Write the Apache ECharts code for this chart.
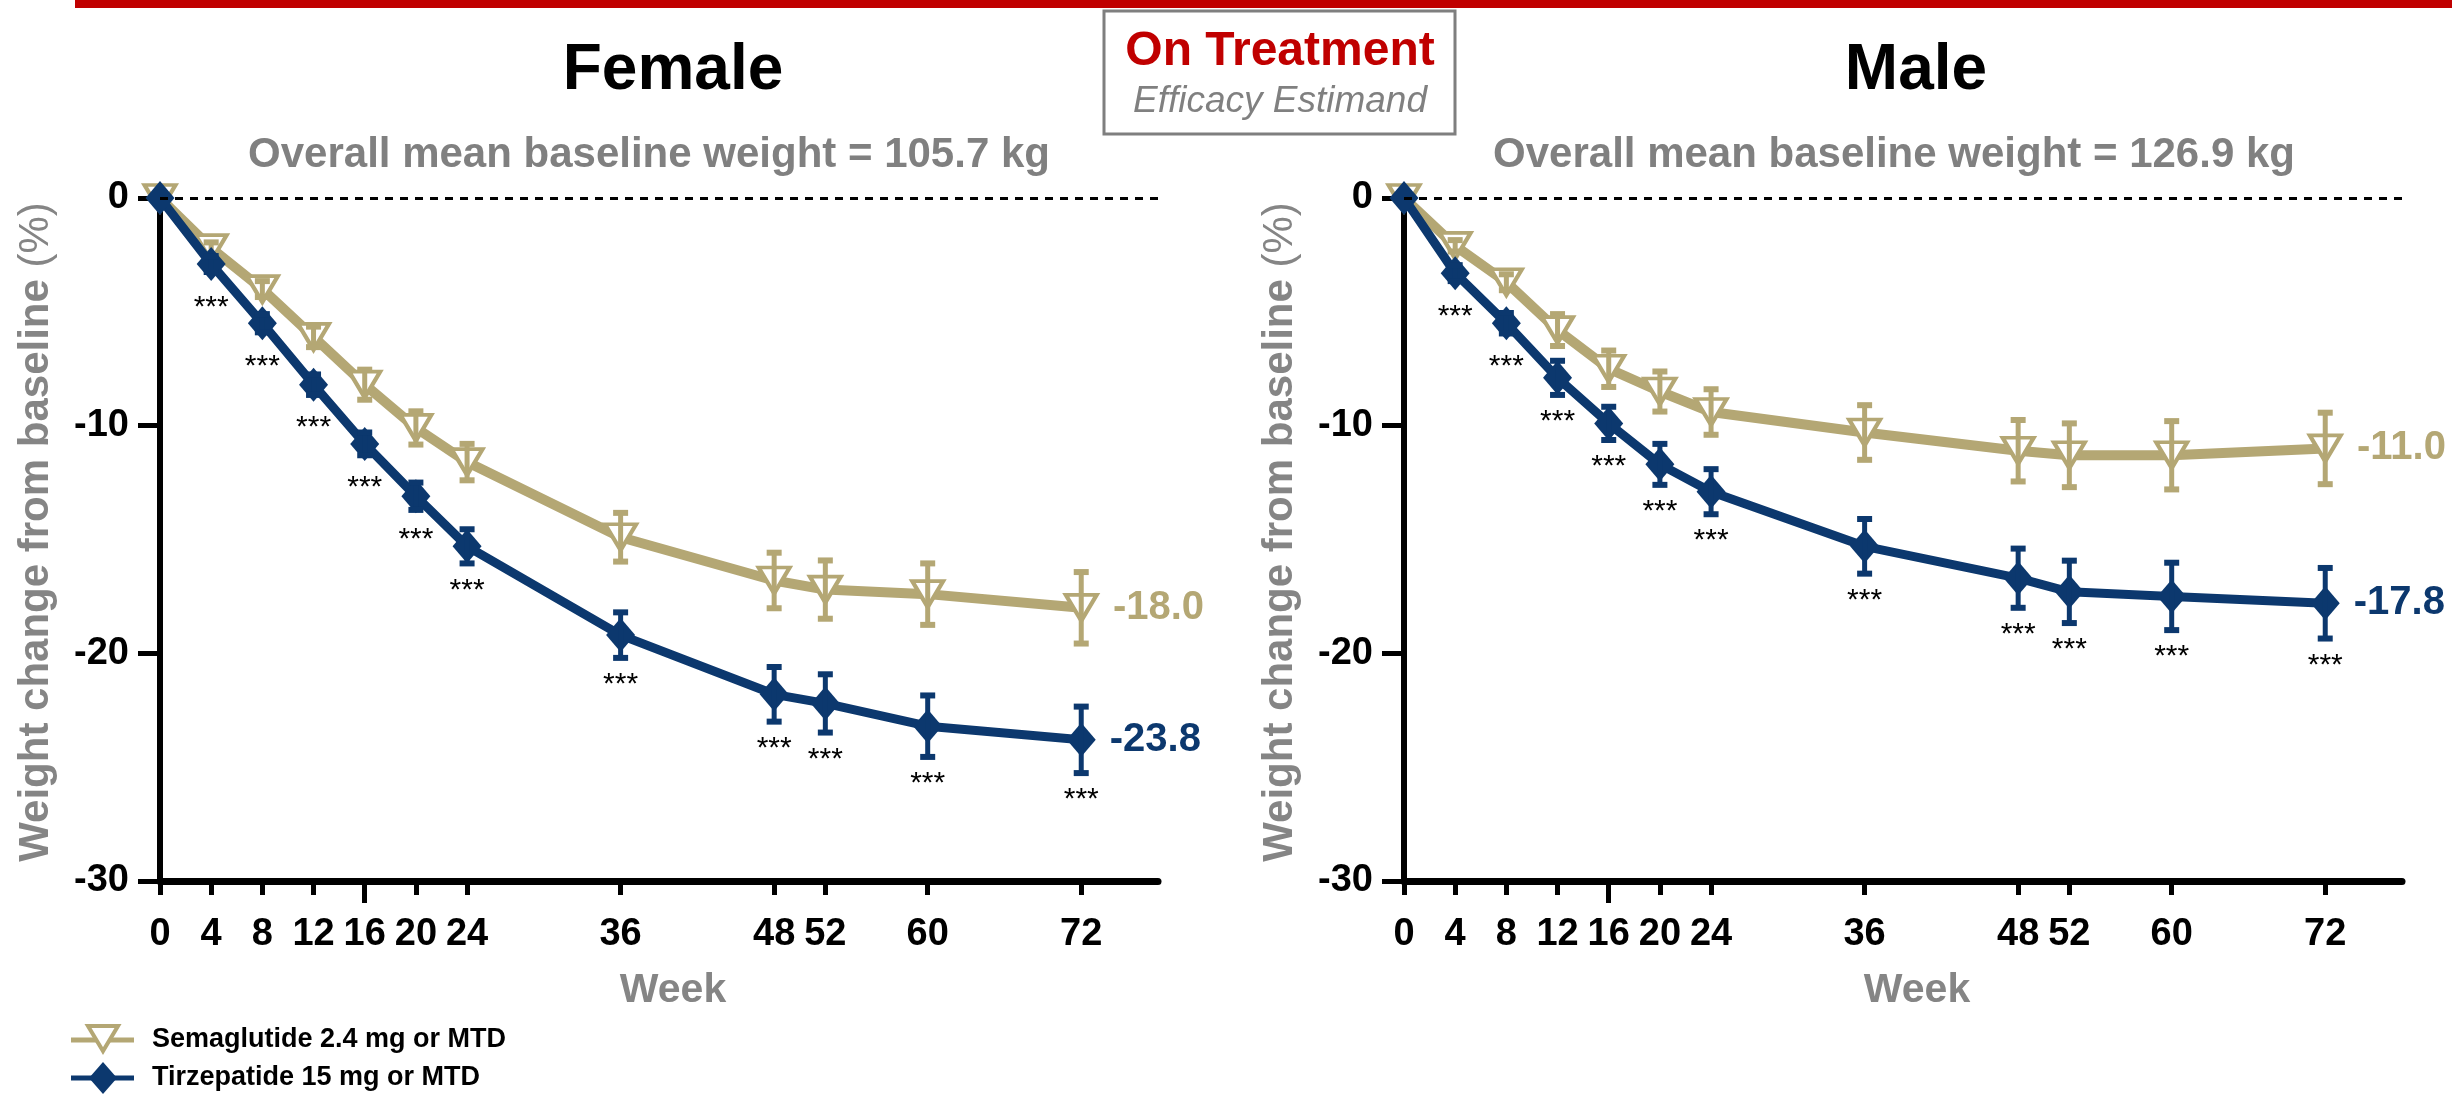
<!DOCTYPE html>
<html>
<head>
<meta charset="utf-8">
<script src="https://cdn.jsdelivr.net/npm/echarts@6/dist/echarts.min.js"></script>
<style>
html,body{margin:0;padding:0;background:#fff;}
#chart{width:2452px;height:1095px;}
</style>
</head>
<body>
<div id="chart"></div>
<script>
// ---------------- DATA ----------------
const weeks = [0, 4, 8, 12, 16, 20, 24, 36, 48, 52, 60, 72];
const xTickValues = [0, 4, 8, 12, 16, 20, 24, 36, 48, 52, 60, 72];
const yTickValues = [-30, -20, -10, 0];

const femaleSema    = [0, -2.2, -4.0, -6.1, -8.2, -10.1, -11.6, -14.9, -16.8, -17.2, -17.4, -18.0];
const femaleSemaErr = [0, 0.25, 0.35, 0.45, 0.66, 0.73, 0.8, 1.07, 1.22, 1.28, 1.35, 1.57];
const femaleTirz    = [0, -2.9, -5.5, -8.2, -10.8, -13.1, -15.3, -19.2, -21.8, -22.2, -23.2, -23.8];
const femaleTirzErr = [0, 0.35, 0.4, 0.45, 0.5, 0.6, 0.75, 1.0, 1.2, 1.28, 1.35, 1.46];

const maleSema    = [0, -2.1, -3.7, -5.8, -7.5, -8.5, -9.4, -10.3, -11.1, -11.3, -11.3, -11.0];
const maleSemaErr = [0, 0.25, 0.35, 0.7, 0.8, 0.88, 1.0, 1.2, 1.35, 1.4, 1.5, 1.57];
const maleTirz    = [0, -3.3, -5.5, -7.9, -9.9, -11.7, -12.9, -15.3, -16.7, -17.3, -17.5, -17.8];
const maleTirzErr = [0, 0.35, 0.45, 0.75, 0.73, 0.9, 0.99, 1.2, 1.3, 1.37, 1.48, 1.55];

// significance marks (*** = p<0.001 vs semaglutide), per week
const femaleSig = ['', '***', '***', '***', '***', '***', '***', '***', '***', '***', '***', '***'];
const maleSig   = ['', '***', '***', '***', '***', '***', '***', '***', '***', '***', '***', '***'];

const panelTitles = ['Female', 'Male'];
const panelSubtitles = ['Overall mean baseline weight = 105.7 kg', 'Overall mean baseline weight = 126.9 kg'];
const seriesNames = ['Semaglutide 2.4 mg or MTD', 'Tirzepatide 15 mg or MTD'];

// ---------------- STYLE ----------------
const FONT = "'Liberation Sans', Arial, Helvetica, sans-serif";
const SEMA = '#B4A774';
const TIRZ = '#0C386E';
const GRAY = '#858585';
const PANEL_LEFT = [160, 1404];
const GRID_TOP = 198, GRID_H = 683, GRID_W = 998;
const SIG_MIN_GAP = 0.72; // asterisks sit below the marker or the error bar, whichever is lower

function pairs(xs, ys) { return xs.map((x, i) => [x, ys[i]]); }
function triples(xs, ys, es) { return xs.map((x, i) => [x, ys[i], es[i]]); }

function errRender(color) {
  return function (params, api) {
    const x = api.value(0), m = api.value(1), e = api.value(2);
    if (!e) return null;
    const t = api.coord([x, m + e]);
    const b = api.coord([x, m - e]);
    const hw = 7.5;
    return {
      type: 'group',
      children: [
        { type: 'line', shape: { x1: t[0], y1: t[1], x2: b[0], y2: b[1] }, style: { stroke: color, lineWidth: 5 } },
        { type: 'line', shape: { x1: t[0] - hw, y1: t[1], x2: t[0] + hw, y2: t[1] }, style: { stroke: color, lineWidth: 6 } },
        { type: 'line', shape: { x1: b[0] - hw, y1: b[1], x2: b[0] + hw, y2: b[1] }, style: { stroke: color, lineWidth: 6 } }
      ]
    };
  };
}

function sigRender(sigArr) {
  return function (params, api) {
    const txt = sigArr[params.dataIndex];
    if (!txt) return null;
    const x = api.value(0), m = api.value(1), e = api.value(2);
    const p = api.coord([x, m - Math.max(e, SIG_MIN_GAP)]);
    return {
      type: 'text',
      style: { text: txt, x: p[0], y: p[1] + 27, align: 'center', verticalAlign: 'middle',
               font: '30px ' + FONT, fill: '#000' }
    };
  };
}

const grids = [], xAxes = [], yAxes = [], series = [];
const panels = [
  { sema: femaleSema, semaErr: femaleSemaErr, tirz: femaleTirz, tirzErr: femaleTirzErr, sig: femaleSig },
  { sema: maleSema, semaErr: maleSemaErr, tirz: maleTirz, tirzErr: maleTirzErr, sig: maleSig }
];

panels.forEach((p, i) => {
  grids.push({ left: PANEL_LEFT[i], top: GRID_TOP, width: GRID_W, height: GRID_H, containLabel: false, outerBoundsMode: 'none' });
  xAxes.push({
    type: 'value', gridIndex: i, min: 0, max: 78, position: 'bottom', offset: 0,
    splitLine: { show: false },
    axisLine: { show: true, onZero: false, lineStyle: { color: '#000', width: 7 } },
    axisTick: { show: true, inside: false, length: 14, customValues: xTickValues, lineStyle: { color: '#000', width: 5 } },
    axisLabel: { show: true, customValues: xTickValues, margin: 35, fontFamily: FONT, fontWeight: 'bold', fontSize: 38, color: '#000' }
  });
  xAxes.push({
    type: 'value', gridIndex: i, min: 0, max: 78, position: 'bottom', offset: 0,
    splitLine: { show: false },
    axisLine: { show: false, onZero: false },
    axisTick: { show: true, length: 22, customValues: [16], lineStyle: { color: '#000', width: 5 } },
    axisLabel: { show: false }
  });
  yAxes.push({
    type: 'value', gridIndex: i, min: -30, max: 0, interval: 10,
    splitLine: { show: false },
    axisLine: { show: true, onZero: false, lineStyle: { color: '#000', width: 6 } },
    axisTick: { show: true, inside: false, length: 22, lineStyle: { color: '#000', width: 5 } },
    axisLabel: { show: true, margin: 31, fontFamily: FONT, fontWeight: 'bold', fontSize: 38, color: '#000',
                 formatter: v => (yTickValues.indexOf(v) >= 0 ? String(v) : '') }
  });

  const xi = i * 2;
  const lastIdx = weeks.length - 1;
  const endLabel = (color) => ({
    show: true, position: 'right', distance: 14,
    formatter: (q) => (q.dataIndex === lastIdx ? q.value[1].toFixed(1) : ''),
    fontFamily: FONT, fontWeight: 'bold', fontSize: 40, color: color
  });

  series.push({
    type: 'line', name: seriesNames[0], xAxisIndex: xi, yAxisIndex: i, z: 2,
    data: pairs(weeks, p.sema),
    symbol: 'triangle', symbolRotate: 180, symbolSize: [31, 26], showAllSymbol: true,
    lineStyle: { color: SEMA, width: 10 },
    itemStyle: { color: '#fff', borderColor: SEMA, borderWidth: 4 },
    label: endLabel(SEMA),
    markLine: {
      silent: true, symbol: 'none', label: { show: false },
      lineStyle: { color: '#000', width: 3, type: [8, 7] },
      data: [[{ coord: [0, 0] }, { coord: [78, 0] }]]
    },
    animation: false
  });
  series.push({
    type: 'custom', xAxisIndex: xi, yAxisIndex: i, z: 3,
    renderItem: errRender(SEMA), data: triples(weeks, p.sema, p.semaErr), animation: false
  });
  series.push({
    type: 'line', name: seriesNames[1], xAxisIndex: xi, yAxisIndex: i, z: 4,
    data: pairs(weeks, p.tirz),
    symbol: 'diamond', symbolSize: [29, 34], showAllSymbol: true,
    lineStyle: { color: TIRZ, width: 9 },
    itemStyle: { color: TIRZ, borderWidth: 0 },
    label: endLabel(TIRZ),
    animation: false
  });
  series.push({
    type: 'custom', xAxisIndex: xi, yAxisIndex: i, z: 5,
    renderItem: errRender(TIRZ), data: triples(weeks, p.tirz, p.tirzErr), animation: false
  });
  series.push({
    type: 'custom', xAxisIndex: xi, yAxisIndex: i, z: 6,
    renderItem: sigRender(p.sig), data: triples(weeks, p.tirz, p.tirzErr), animation: false
  });
});

// ---------------- GRAPHICS (titles, legend, frame) ----------------
const graphics = [
  { type: 'rect', shape: { x: 75, y: 0, width: 2377, height: 8 }, style: { fill: '#C00000' } },
  { type: 'rect', shape: { x: 1104, y: 11, width: 351, height: 123 }, style: { fill: '#fff', stroke: '#7F7F7F', lineWidth: 3 } },
  { type: 'text', x: 1280, y: 52, style: { text: 'On Treatment', font: 'bold 48px ' + FONT, fill: '#C00000', align: 'center', verticalAlign: 'middle' } },
  { type: 'text', x: 1280, y: 102, style: { text: 'Efficacy Estimand', font: 'italic 37px ' + FONT, fill: '#808080', align: 'center', verticalAlign: 'middle' } }
];
const titleX = [673, 1916], subX = [649, 1894], weekX = [673, 1917], ylabX = [36, 1280];
[0, 1].forEach(i => {
  graphics.push({ type: 'text', x: titleX[i], y: 71, style: { text: panelTitles[i], font: 'bold 64px ' + FONT, fill: '#000', align: 'center', verticalAlign: 'middle' } });
  graphics.push({ type: 'text', x: subX[i], y: 155, style: { text: panelSubtitles[i], font: 'bold 42px ' + FONT, fill: '#808080', align: 'center', verticalAlign: 'middle' } });
  graphics.push({ type: 'text', x: weekX[i], y: 991, style: { text: 'Week', font: 'bold 41px ' + FONT, fill: GRAY, align: 'center', verticalAlign: 'middle' } });
  graphics.push({
    type: 'text', x: ylabX[i], y: 532, rotation: Math.PI / 2,
    style: {
      text: '{b|Weight change from baseline }{r|(%)}', align: 'center', verticalAlign: 'middle',
      rich: {
        b: { fontFamily: FONT, fontWeight: 'bold', fontSize: 42, fill: GRAY, color: GRAY },
        r: { fontFamily: FONT, fontWeight: 'normal', fontSize: 42, fill: GRAY, color: GRAY }
      }
    }
  });
});
// legend
graphics.push(
  { type: 'line', shape: { x1: 71, y1: 1040, x2: 134, y2: 1040 }, style: { stroke: SEMA, lineWidth: 5 } },
  { type: 'polygon', shape: { points: [[88, 1026], [118, 1026], [103, 1051]] }, style: { fill: '#fff', stroke: SEMA, lineWidth: 4 } },
  { type: 'text', x: 152, y: 1040, style: { text: seriesNames[0], font: 'bold 27px ' + FONT, fill: '#000', align: 'left', verticalAlign: 'middle' } },
  { type: 'line', shape: { x1: 71, y1: 1078, x2: 134, y2: 1078 }, style: { stroke: TIRZ, lineWidth: 5 } },
  { type: 'polygon', shape: { points: [[103, 1062], [117, 1078], [103, 1094], [89, 1078]] }, style: { fill: TIRZ } },
  { type: 'text', x: 152, y: 1078, style: { text: seriesNames[1], font: 'bold 27px ' + FONT, fill: '#000', align: 'left', verticalAlign: 'middle' } }
);

const chart = echarts.init(document.getElementById('chart'), null, { renderer: 'canvas', width: 2452, height: 1095 });
chart.setOption({
  backgroundColor: '#fff',
  animation: false,
  grid: grids,
  xAxis: xAxes,
  yAxis: yAxes,
  series: series,
  graphic: graphics
});
</script>
</body>
</html>
